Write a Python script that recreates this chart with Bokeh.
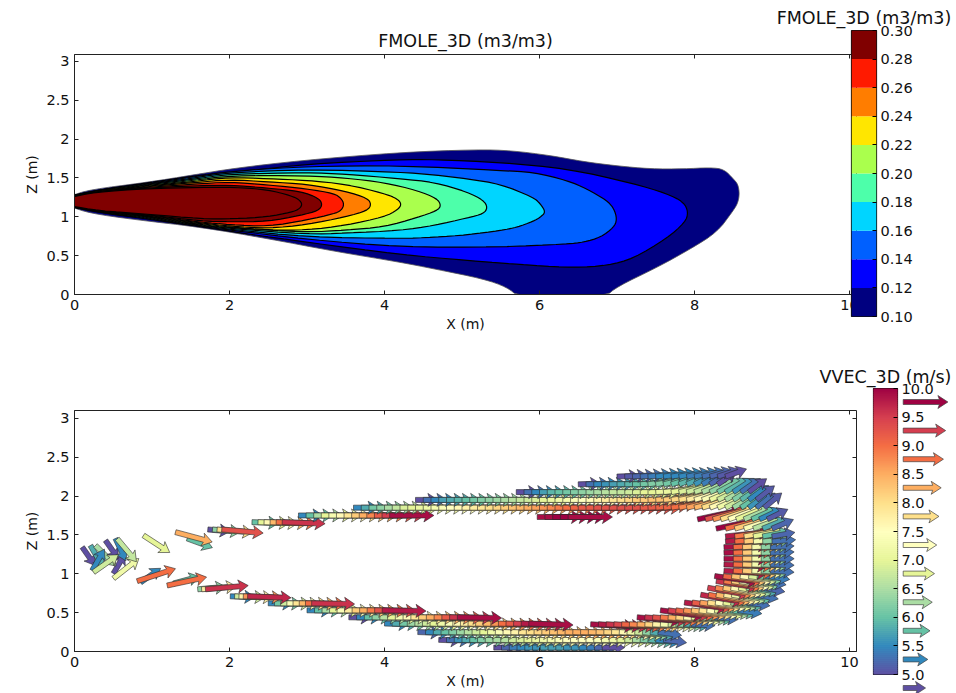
import math
from bokeh.plotting import figure
from bokeh.layouts import column, row
from bokeh.models import LinearAxis, FixedTicker, Range1d
from bokeh.embed import file_html
from bokeh.resources import INLINE

FONT = "DejaVu Sans"
X_TICKS = [0, 2, 4, 6, 8, 10]
Z_TICKS = [0, 0.5, 1, 1.5, 2, 2.5, 3]
TITLE_F = "FMOLE_3D (m3/m3)"
TITLE_V = "VVEC_3D (m/s)"
F_LEVELS = [0.10, 0.12, 0.14, 0.16, 0.18, 0.20, 0.22, 0.24, 0.26, 0.28, 0.30]
F_COLORS = ["#000080", "#0000ff", "#0060ff", "#00d5ff", "#4dffaa", "#aaff4d",
            "#ffe600", "#ff7d00", "#ff1a00", "#800000"]
V_LEVELS = [5.0, 5.5, 6.0, 6.5, 7.0, 7.5, 8.0, 8.5, 9.0, 9.5, 10.0]
V_COLORS = ["#5e4fa2", "#3288bd", "#66c2a5", "#abdda4", "#e6f598", "#ffffbf",
            "#fee08b", "#fdae61", "#f46d43", "#d53e4f", "#9e0142"]

# contours of FMOLE_3D
C10_X = [-.05,.2,.94,1.54,2.06,2.92,4.2,5.2,5.63,6.14,6.57,7.0,7.43,7.86,8.2,8.38,8.5,8.56,8.58,8.56,8.5,8.29,7.95,7.52,7.0,6.85,5.73,5.58,5.28,4.64,4.2,3.35,2.49,1.63,.77,.2,-.05]
C10_Z = [1.27,1.35,1.445,1.54,1.625,1.725,1.83,1.866,1.853,1.79,1.71,1.656,1.617,1.617,1.634,1.613,1.49,1.42,1.3,1.18,1.08,.80,.588,.35,.10,-.03,-.03,.094,.2,.33,.416,.557,.72,.866,.965,1.046,1.13]
C12_X = [-.05,.3,.94,1.54,2.2,3,4.2,4.64,5.5,6.36,7.21,7.64,7.86,7.92,7.88,7.64,7.21,6.88,6.45,5.92,5.07,4.2,3,2.2,1.63,.94,.3,-.05]
C12_Z = [1.268,1.345,1.435,1.528,1.587,1.68,1.737,1.737,1.70,1.62,1.43,1.3,1.19,1.06,.93,.72,.463,.373,.347,.373,.438,.515,.673,.785,.873,.972,1.058,1.132]
C14_X = [-.05,.3,.94,1.54,2,3,4.2,5.5,5.92,6.36,6.61,6.87,6.96,7.0,6.96,6.79,6.57,6.36,5.5,4.2,3,2,1.63,.94,.3,-.05]
C14_Z = [1.266,1.342,1.428,1.515,1.585,1.65,1.66,1.596,1.574,1.467,1.36,1.21,1.107,.97,.866,.737,.673,.65,.61,.61,.71,.83,.88,.979,1.062,1.133]
C16_X = [-.05,.3,.94,1.54,2,3,4.2,4.64,5.07,5.5,5.92,6.01,6.08,6.01,5.92,5.71,5.5,5.07,4.64,4.2,3,2,1.63,.94,.3,-.05]
C16_Z = [1.264,1.34,1.42,1.50,1.57,1.61,1.575,1.54,1.49,1.42,1.25,1.17,1.06,.995,.943,.866,.824,.768,.737,.72,.74,.84,.887,.986,1.066,1.134]
C18_X = [-.05,.3,.94,1.54,2,3,3.5,4.2,4.64,5.07,5.28,5.33,5.28,5.07,4.64,4.2,3.5,3,2,1.63,.94,.3,-.05]
C18_Z = [1.262,1.337,1.412,1.485,1.55,1.57,1.55,1.49,1.445,1.32,1.21,1.12,1.04,.987,.888,.824,.79,.775,.85,.894,.993,1.07,1.135]
C20_X = [-.05,.3,.94,1.54,2,3,3.5,4,4.42,4.68,4.73,4.68,4.42,4,3.5,3,2,1.63,.94,.3,-.05]
C20_Z = [1.26,1.334,1.404,1.47,1.53,1.53,1.5,1.44,1.34,1.235,1.145,1.08,.99,.87,.83,.80,.86,.90,1.0,1.072,1.135]
C22_X = [-.05,.3,.94,1.54,2,2.5,3,3.5,4,4.17,4.22,4.17,4,3.5,3,2.5,2,1.63,.94,.3,-.05]
C22_Z = [1.258,1.331,1.396,1.455,1.51,1.49,1.47,1.42,1.30,1.23,1.16,1.09,1.0,.89,.83,.83,.87,.91,1.007,1.074,1.136]
C24_X = [-.05,.3,.94,1.54,2,2.5,3,3.5,3.78,3.83,3.78,3.5,3,2.5,2,1.63,.94,.3,-.05]
C24_Z = [1.256,1.328,1.388,1.44,1.48,1.45,1.42,1.33,1.24,1.16,1.08,1.0,.90,.85,.88,.92,1.014,1.076,1.137]
C26_X = [-.05,.3,.94,1.54,2,2.5,3,3.35,3.44,3.48,3.44,3.35,3,2.5,2,1.63,.94,.3,-.05]
C26_Z = [1.254,1.325,1.38,1.42,1.45,1.41,1.36,1.3,1.24,1.16,1.08,1.04,.96,.875,.90,.93,1.021,1.078,1.138]
C28_X = [-.05,.3,.94,1.54,2,2.49,2.92,3.15,3.2,3.15,2.92,2.5,2,1.63,.94,.3,-.05]
C28_Z = [1.252,1.322,1.372,1.40,1.41,1.37,1.33,1.24,1.16,1.08,1.02,.94,.935,.945,1.028,1.079,1.139]
C30_X = [-.05,.26,.94,1.63,2.06,2.49,2.8,2.9,2.94,2.9,2.8,2.49,2.06,1.63,.94,.3,-.05]
C30_Z = [1.25,1.317,1.364,1.38,1.38,1.35,1.27,1.22,1.16,1.10,1.06,1.0,.974,.974,1.035,1.08,1.14]

# single arrows at the left: tail x, tail z, angle in degrees, speed
S_X = [.852,.809,1.277,1.196,.503,.503,.89,1.454,1.303,.1,.206,.271,.4,.529,.551,.228,.245]
S_Z = [.888,.905,.875,.849,1.004,.94,1.493,1.454,1.535,1.342,1.364,1.364,1.429,1.454,1.45,1.042,1.02]
S_A = [35,18,15,12,60,38,-33,-20,-15,-55,-60,-45,-55,-65,-50,60,35]
S_V = [5.5,9.0,6.0,9.0,5.0,7.2,7.0,6.0,8.5,5.0,5.8,6.5,5.0,5.5,6.7,5.5,6.8]

# rows of arrows: z, first x, x step, base angle, angles of the last arrows, speeds
R01 = (.05, 5.41, .1, 0, [], [5,5.2,5.4,5.5,5.6,5.6,5.7,5.7,5.7,5.6,5.6,5.5,5.4,5.2,5])
R02 = (.15, 4.7, .1, -2, [-4,-5,-6,-7], [5,5.3,5.6,5.8,6,6.2,6.4,6.5,6.6,6.8,6.9,7,7.1,7.2,7.3,7.4,7.5,7.5,7.5,7.5,7.4,7.3,7.2,7,6.8,6.5,6.2,5.9,5.5,5.2])
R03 = (.25, 4.43, .1, -2, [-4,-5,-6,-7,-8,-8], [5.2,5.5,5.8,6,6.2,6.4,6.6,6.8,7,7.2,7.4,7.6,7.7,7.9,8,8.1,8.2,8.3,8.4,8.5,8.5,8.5,8.4,8.3,8.1,7.9,7.6,7.2,6.8,6.3,5.8,5.3])
R04 = (.36, 4.0, .098, -2, [], [5.5,5.8,6.1,6.4,6.6,6.8,7,7.2,7.4,7.6,7.8,8,8.2,8.4,8.7,9,9.2,9.5,9.8,9.9])
R05 = (.35, 6.66, .1, -3, [], [9.9,9.8,9.6,9.4,9.1,8.8,8.5,8.1,7.7,7.3,6.8,6.3,5.8,5.3])
R06 = (.44, 3.54, .1, -1, [], [5,5.5,6,6.3,6.6,7,7.3,7.6,7.9,8.2,8.5,8.8,9.2,9.6,9.9])
R07 = (.44, 7.26, .1, -5, [], [9.9,9.6,9.3,8.9,8.5,8.1,7.6,7.1,6.6,6,5.3])
R08 = (.53, 3.0, .097, -1, [], [5.5,6,6.5,7,7.4,7.8,8.2,8.5,8.9,9.3,9.8])
R09 = (.53, 7.56, .1, -8, [], [9.9,9.5,9.1,8.7,8.3,7.9,7.5,7,6.5,6,5.4])
R10 = (.62, 2.5, .08, -1, [], [5.5,6.1,6.8,7.4,7.9,8.4,9,9.6])
R11 = (.63, 7.87, .1, -8, [], [9.8,9.2,8.6,8,7.5,7,6.5,5.9,5.3])
R12 = (.71, 2.01, .056, -2, [], [5.5,6.8,7.7,8.7,9.7])
R13 = (.73, 8.08, .1, -10, [], [9.7,9,8.4,7.8,7.2,6.6,6,5.3])
R14 = (.80, 1.59, .05, 5, [], [6.3,7.8,9.6])
R15 = (.82, 8.17, .1, -10, [], [9.5,8.8,8.2,7.6,7,6.4,5.8,5.2])
R16 = (.906, 8.28, .1, -9, [], [9.6,8.9,8.2,7.5,6.9,6.2,5.3])
R17 = (.97, 8.26, .11, -8, [], [9.9,9.1,8.3,7.6,6.9,6.2,5.4])
R18 = (1.04, 8.38, .12, -4, [], [9.8,9,8.2,7.3,6.3,5.3])
R19 = (1.12, 8.38, .12, -2, [], [9.8,9,8.2,7.3,6.3,5.3])
R20 = (1.194, 8.38, .12, 0, [], [9.9,9,8.2,7.3,6.3,5.3])
R21 = (1.27, 8.38, .12, 2, [], [9.9,9,8.2,7.3,6.3,5.3])
R22 = (1.342, 8.38, .12, 3, [], [9.9,9,8.2,7.3,6.3,5.3])
R23 = (1.416, 8.4, .12, 4, [], [9.8,9,8.2,7.3,6.3,5.3])
R24 = (1.48, 8.4, .12, 6, [6,8,10,11,11,10], [9.8,8.9,8,7,6,5.2])
R25 = (1.57, 1.72, .06, -5, [], [5.0,6.3,8.0,9.3])
R26 = (1.58, 8.28, .12, 10, [12,14,16,18,20,22,23], [10,9,8.2,7.4,6.6,5.8,5.2])
R27 = (1.664, 2.29, .078, -2, [], [6.0,7.0,7.6,8.4,9.0,9.6])
R28 = (1.7, 8.04, .1, 10, [12,14,16,18,20,22,23,24,25,26], [10,9.3,8.7,8,7.5,7,6.5,6,5.5,5.1])
R29 = (1.73, 5.97, .1, 0, [], [9.9,9.9,10,10,9.9])
R30 = (1.75, 2.89, .098, 0, [], [5.5,6,6.5,7,7.3,7.6,7.9,8.2,8.5,8.8,9.2,9.5,9.9])
R31 = (1.85, 3.6, .1, 0, [3,5,7,9,11,13,15,18,21,24,27,30,33,36,38,40], [5.5,5.8,6.1,6.3,6.5,6.7,6.9,7.0,7.1,7.2,7.3,7.4,7.5,7.6,7.7,7.8,7.9,8.0,8.1,8.2,8.3,8.4,8.5,8.6,8.7,8.8,8.9,9.0,9.1,9.2,9.2,9.3,9.3,9.3,9.3,9.3,9.3,9.2,9.2,9.1,9.1,9.0,8.8,8.6,8.4,8.0,7.6,7.2,6.8,6.4,6.0,5.6,5.3,5.1])
R32 = (1.95, 4.4, .1, 0, [3,5,7,9,11,14,17,20,23,26,29,32,34,36,38], [5,5.3,5.5,5.7,5.8,5.9,6,6.1,6.2,6.3,6.4,6.5,6.6,6.7,6.8,6.9,7,7.1,7.2,7.3,7.4,7.5,7.6,7.7,7.8,7.9,8,8.1,8.2,8.2,8.3,8.3,8.2,8.1,8,7.8,7.6,7.4,7.1,6.8,6.5,6.2,5.9,5.5,5.1])
R33 = (2.05, 5.7, .1, 0, [4,7,10,13,16,19,22,25,28,31,33,35,37], [5,5.3,5.5,5.7,5.9,6.0,6.1,6.2,6.3,6.4,6.5,6.6,6.7,6.7,6.8,6.9,7,7,7.1,7.1,7,6.9,6.8,6.7,6.5,6.3,6.1,5.9,5.6,5.3,5.0])
R34 = (2.15, 6.5, .1, 2, [5,8,11,14,17,20,23,26,29,32,35], [5,5.3,5.5,5.6,5.7,5.8,5.9,6,6.1,6.2,6.2,6.1,6,5.9,5.8,5.6,5.4,5.2,5.0])
R35 = (2.25, 7.0, .1, 2, [2,3,4,5,6,7,8,9,10,11,12,14,16,18,20], [5,5.1,5.2,5.3,5.4,5.5,5.5,5.5,5.5,5.4,5.4,5.3,5.2,5.1,5.0])
ROWS = [R01,R02,R03,R04,R05,R06,R07,R08,R09,R10,R11,R12,R13,R14,R15,R16,R17,R18,
        R19,R20,R21,R22,R23,R24,R25,R26,R27,R28,R29,R30,R31,R32,R33,R34,R35]


def speed_color(v):
    t = max(0.0, min(0.99999, (v - V_LEVELS[0]) / (V_LEVELS[-1] - V_LEVELS[0]))) * (len(V_COLORS) - 1)
    i = int(t)
    f = t - i
    a = V_COLORS[i]
    b = V_COLORS[i + 1]
    c = [round(int(a[k:k+2], 16) * (1 - f) + int(b[k:k+2], 16) * f) for k in (1, 3, 5)]
    return "#%02x%02x%02x" % tuple(c)


def arrow_poly(x, y, angle, v, sx, sy):
    # arrow shape in screen pixels, sx and sy are pixels per data unit
    length = 4.47 * v
    shape = [(0, -2.5), (length - 8.5, -2.5), (length - 10, -6.5), (length, 0),
             (length - 10, 6.5), (length - 8.5, 2.5), (0, 2.5)]
    a = math.radians(angle)
    ca, sa = math.cos(a), math.sin(a)
    return ([x + (u * ca - w * sa) / sx for u, w in shape],
            [y + (u * sa + w * ca) / sy for u, w in shape])


def smooth(xs, zs, n=2):
    pts = list(zip(xs, zs))
    for _ in range(n):
        out = [pts[0]]
        for (x0, z0), (x1, z1) in zip(pts[:-1], pts[1:]):
            out.append((.75 * x0 + .25 * x1, .75 * z0 + .25 * z1))
            out.append((.25 * x0 + .75 * x1, .25 * z0 + .75 * z1))
        out.append(pts[-1])
        pts = out
    return [p[0] for p in pts], [p[1] for p in pts]


def set_title(p, text, standoff):
    p.title.text = text
    p.title.align = "center"
    p.title.text_font = FONT
    p.title.text_font_size = "17.5px"
    p.title.text_font_style = "normal"
    p.title.text_color = "#111111"
    p.title.standoff = standoff


def bar_axis(p, ticks, fmt):
    ax = LinearAxis(ticker=FixedTicker(ticks=ticks), major_label_overrides={v: fmt % v for v in ticks})
    ax.major_tick_in = 4
    ax.major_tick_out = 0
    ax.minor_tick_line_color = None
    ax.axis_line_color = None
    ax.major_label_text_font = FONT
    ax.major_label_text_font_size = "14.5px"
    ax.major_label_text_color = "#111111"
    ax.major_label_standoff = 4
    p.add_layout(ax, "right")


def bare(p):
    p.grid.visible = False
    p.xaxis.visible = False
    p.yaxis.visible = False
    p.background_fill_alpha = 0
    p.border_fill_alpha = 0


def main_fig(height, top, bottom, y_end):
    p = figure(width=852, height=height, min_border_left=66, min_border_right=4,
               min_border_top=top, min_border_bottom=bottom,
               x_range=Range1d(0, 10.09), y_range=Range1d(0, y_end),
               output_backend="svg", toolbar_location=None, x_axis_label="X (m)", y_axis_label="Z (m)",
               frame_align=False)
    p.grid.visible = False
    p.border_fill_alpha = 0
    p.outline_line_color = "#222222"
    p.outline_line_width = 1
    for ax, ticks in ((p.xaxis[0], X_TICKS), (p.yaxis[0], Z_TICKS)):
        ax.ticker = FixedTicker(ticks=ticks)
        ax.major_tick_in = 4
        ax.major_tick_out = 0
        ax.minor_tick_line_color = None
        ax.axis_line_color = "#222222"
        ax.major_tick_line_color = "#222222"
        ax.major_label_text_font = FONT
        ax.major_label_text_font_size = "14.5px"
        ax.major_label_text_color = "#111111"
        ax.axis_label_text_font = FONT
        ax.axis_label_text_font_size = "14px"
        ax.axis_label_text_font_style = "normal"
        ax.axis_label_text_color = "#111111"
        ax.major_label_standoff = 5
        ax.axis_label_standoff = 3
    for place, loc, ticks in (("above", y_end, X_TICKS), ("right", 10.09, Z_TICKS)):
        extra = LinearAxis(fixed_location=loc, ticker=FixedTicker(ticks=ticks))
        extra.major_tick_in = 4
        extra.major_tick_out = 0
        extra.minor_tick_line_color = None
        extra.axis_line_color = None
        extra.major_tick_line_color = "#222222"
        extra.major_label_text_color = None
        p.add_layout(extra, place)
    return p


# ---------- upper plot
p1 = main_fig(352, 46, 66, 3.09)
set_title(p1, TITLE_F, 7)
CONTOURS = [(C10_X, C10_Z), (C12_X, C12_Z), (C14_X, C14_Z), (C16_X, C16_Z), (C18_X, C18_Z),
            (C20_X, C20_Z), (C22_X, C22_Z), (C24_X, C24_Z), (C26_X, C26_Z), (C28_X, C28_Z), (C30_X, C30_Z)]
for i, (cx, cz) in enumerate(CONTOURS):
    sx, sz = smooth(cx, cz)
    p1.patch(sx, sz, fill_color=F_COLORS[min(i, 9)], line_color="#000000" if i else "#555555", line_width=1.2 if i else 0.8)

# ---------- upper colour bar
c1 = figure(width=182, height=360, min_border_left=81, min_border_right=76, min_border_top=30, min_border_bottom=44,
            x_range=Range1d(0, 1), y_range=Range1d(F_LEVELS[0], F_LEVELS[-1]),
            output_backend="svg", toolbar_location=None, margin=(-8, 0, 0, -90), frame_align=False)
bare(c1)
c1.outline_line_color = "#111111"
c1.outline_line_width = 1.2
c1.quad(left=0, right=1, bottom=F_LEVELS[:-1], top=F_LEVELS[1:], fill_color=F_COLORS, line_color=None)
set_title(c1, TITLE_F, 5)
bar_axis(c1, F_LEVELS, "%.2f")

# ---------- lower plot
p2 = main_fig(333, 50, 42, 3.1)
xs, ys, cs = [], [], []
PX = 77.5


def add(x, z, a, v):
    px, py = arrow_poly(x, z, a, v, PX, PX)
    xs.append(px)
    ys.append(py)
    cs.append(speed_color(v))


for x, z, a, v in zip(S_X, S_Z, S_A, S_V):
    add(x, z, a, v)
for z, x0, dx, base, tail, speeds in sorted(ROWS, key=lambda r: (r[0], r[1])):
    n = len(speeds)
    for i, v in enumerate(speeds):
        k = i - (n - len(tail))
        add(x0 + i * dx, z, tail[k] if k >= 0 else base, v)
p2.patches(xs, ys, fill_color=cs, line_color="#2a2a2a", line_width=0.6)

# ---------- lower colour bar
c2 = figure(width=133, height=333, min_border_left=54, min_border_right=55, min_border_top=28, min_border_bottom=19,
            x_range=Range1d(0, 1), y_range=Range1d(V_LEVELS[0], V_LEVELS[-1]),
            output_backend="svg", toolbar_location=None, margin=(0, 0, 0, -41), frame_align=False)
bare(c2)
c2.outline_line_color = "#111111"
c2.outline_line_width = 1.2
steps = 143
edges = [V_LEVELS[0] + (V_LEVELS[-1] - V_LEVELS[0]) * i / steps for i in range(steps + 1)]
strip_colors = [speed_color((a + b) / 2) for a, b in zip(edges[:-1], edges[1:])]
c2.quad(left=0, right=1, bottom=edges[:-1], top=edges[1:],
        fill_color=strip_colors, line_color=strip_colors, line_width=0.8)
set_title(c2, TITLE_V, 4)
bar_axis(c2, V_LEVELS, "%.1f")

# ---------- arrow key beside it
PER_UNIT = 57.2
c3 = figure(width=52, height=333, min_border_left=0, min_border_right=0, min_border_top=28, min_border_bottom=0,
            x_range=Range1d(0, 52), y_range=Range1d(4.668, 10),
            output_backend="svg", toolbar_location=None, margin=(0, 0, 0, -54), frame_align=False)
bare(c3)
c3.outline_line_color = None
kx, ky, kc = [], [], []
for v in V_LEVELS:
    a, b = arrow_poly(4.7, v - 13.5 / PER_UNIT, 0, v, 1, PER_UNIT)
    kx.append(a)
    ky.append(b)
    kc.append(speed_color(v))
c3.patches(kx, ky, fill_color=kc, line_color="#444444", line_width=0.7)

page = column(row(p1, c1), row(p2, c2, c3), margin=(8, 0, 0, 8))
open("out.html", "w").write(file_html(page, INLINE))
